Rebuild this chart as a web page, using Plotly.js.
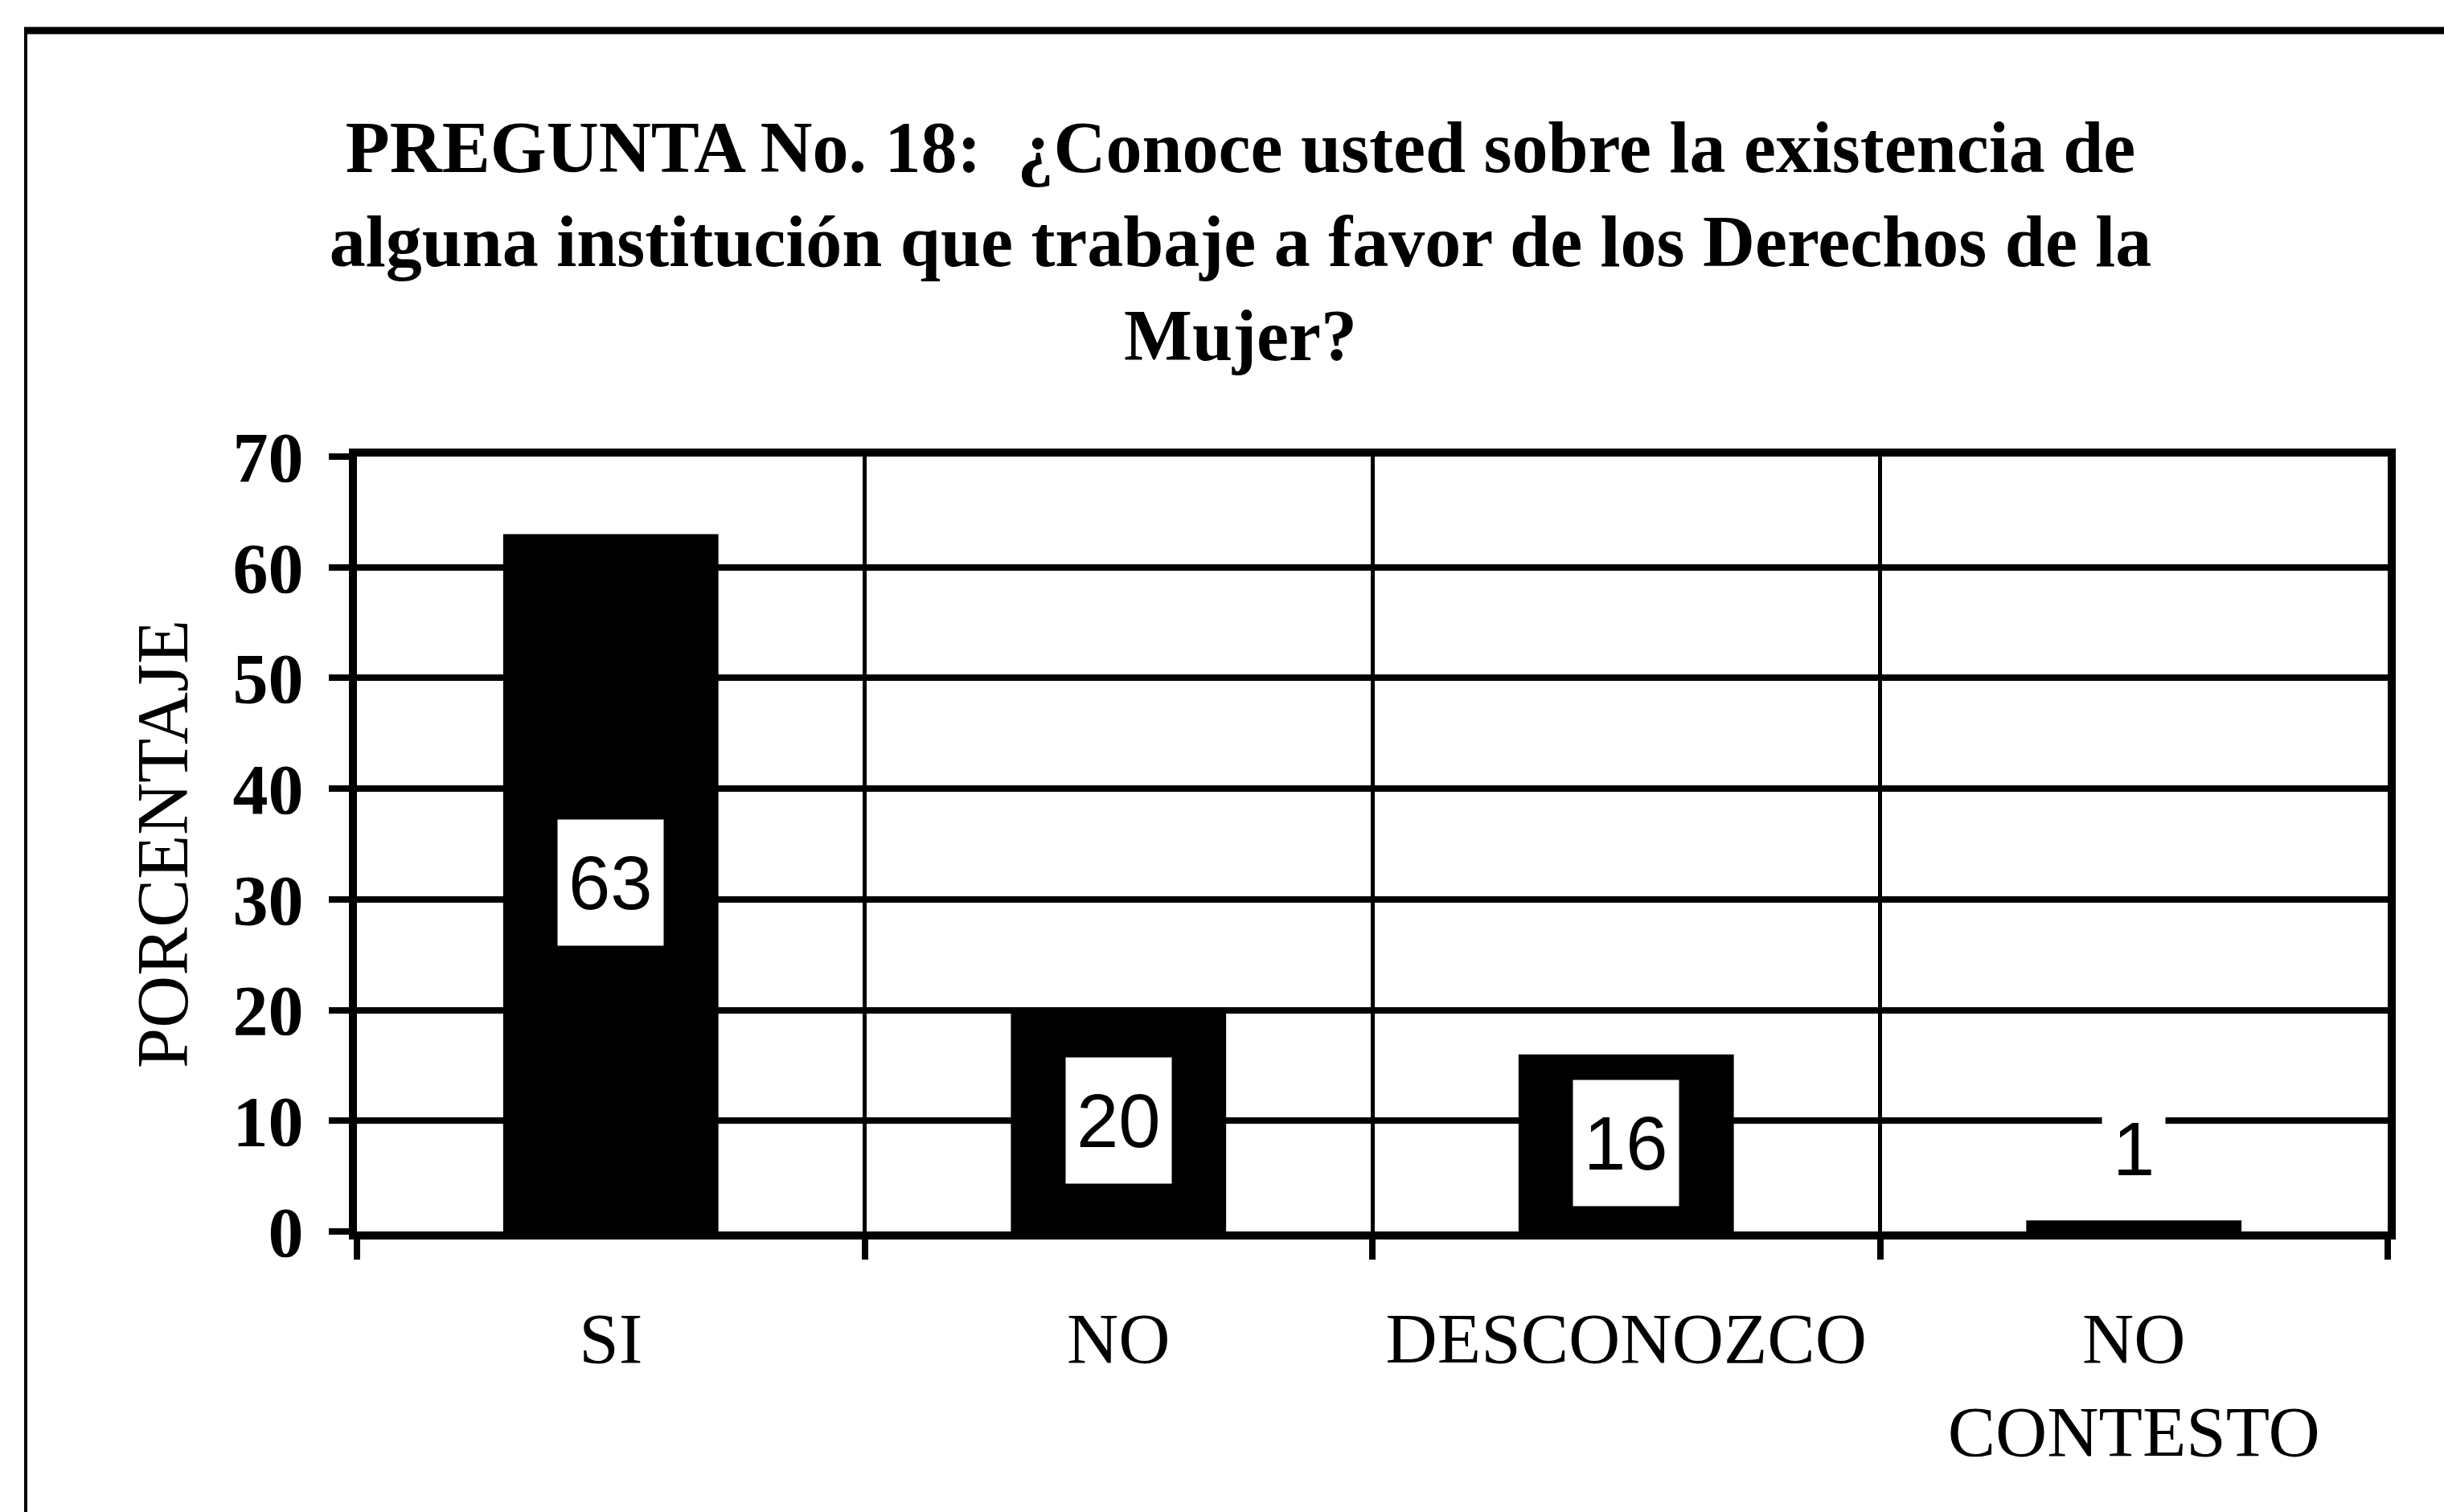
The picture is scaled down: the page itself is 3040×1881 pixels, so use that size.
<!DOCTYPE html>
<html>
<head>
<meta charset="utf-8">
<script src="https://cdn.plot.ly/plotly-3.0.1.min.js"></script>
<style>
  html, body { margin: 0; padding: 0; background: #ffffff; }
  #chart { width: 3040px; height: 1881px; }
</style>
</head>
<body>
<div id="chart"></div>
<script>
// ---- data ----
const categories = ["SI", "NO", "DESCONOZCO", "NO<br>CONTESTO"];
const percentages = [63, 20, 16, 1];
const yTickValues = [0, 10, 20, 30, 40, 50, 60, 70];

const titleText = "PREGUNTA No. 18:\u00A0 ¿Conoce usted sobre la existencia de<br>" +
                  "alguna institución que trabaje a favor de los Derechos de la<br>" +
                  "Mujer?";
const yTitle = "PORCENTAJE";

// ---- layout constants (pixels) ----
const W = 3040, H = 1881;
const M = { l: 444, r: 70, t: 568, b: 349 };
const plotW = W - M.l - M.r, plotH = H - M.t - M.b;
const px2x = p => (p - M.l) / plotW;
const px2y = p => (H - M.b - p) / plotH;

const serif = "Liberation Serif, Times New Roman, serif";
const sans = "Liberation Sans, Arial, sans-serif";

const trace = {
  type: "bar",
  x: categories,
  y: percentages,
  marker: { color: "#000000", line: { width: 0 } },
  hoverinfo: "none"
};

// value labels in white boxes, centred in the bar (above it when the bar is too short)
const annotations = categories.map((c, i) => {
  const v = percentages[i];
  const small = v < 5;
  return {
    x: c, y: small ? v : v / 2,
    xref: "x", yref: "y",
    text: String(v),
    showarrow: false,
    xanchor: "center",
    yanchor: small ? "bottom" : "middle",
    yshift: small ? 10 : 0,
    bgcolor: "#ffffff",
    borderpad: 13,
    height: 130,
    font: { family: sans, size: 94, color: "#000000" }
  };
});

const shapes = [
  // outer frame (top and left edges visible in the scan)
  { type: "line", xref: "paper", yref: "paper",
    x0: px2x(30), x1: px2x(3100), y0: px2y(38), y1: px2y(38),
    line: { color: "#000000", width: 9 } },
  { type: "line", xref: "paper", yref: "paper",
    x0: px2x(32), x1: px2x(32), y0: px2y(34), y1: px2y(1950),
    line: { color: "#000000", width: 4 } }
];

const layout = {
  width: W, height: H,
  margin: M,
  paper_bgcolor: "#ffffff",
  plot_bgcolor: "#ffffff",
  showlegend: false,
  bargap: 0.576,
  title: {
    text: titleText,
    font: { family: serif, size: 90, color: "#000000", weight: "bold" },
    x: 1543 / W, xanchor: "center", xref: "container",
    y: 1 - 214 / H, yanchor: "top", yref: "container"
  },
  xaxis: {
    type: "category",
    tickson: "boundaries",
    showline: true, mirror: true, linecolor: "#000000", linewidth: 10,
    showgrid: true, gridcolor: "#000000", gridwidth: 5,
    ticks: "outside", ticklen: 25, tickwidth: 8, tickcolor: "#000000",
    ticklabelstandoff: 46,
    tickfont: { family: serif, size: 89, color: "#000000" },
    zeroline: false, fixedrange: true
  },
  yaxis: {
    range: [0, 70],
    tickvals: yTickValues,
    showline: true, mirror: true, linecolor: "#000000", linewidth: 10,
    showgrid: true, gridcolor: "#000000", gridwidth: 8,
    ticks: "outside", ticklen: 25, tickwidth: 8, tickcolor: "#000000",
    ticklabelstandoff: 14,
    tickfont: { family: serif, size: 88, color: "#000000", weight: "bold" },
    zeroline: false, fixedrange: true,
    title: {
      text: yTitle,
      standoff: 30,
      font: { family: serif, size: 90, color: "#000000" }
    }
  },
  annotations: annotations,
  shapes: shapes
};

Plotly.newPlot("chart", [trace], layout, { staticPlot: true, displayModeBar: false });
</script>
</body>
</html>
